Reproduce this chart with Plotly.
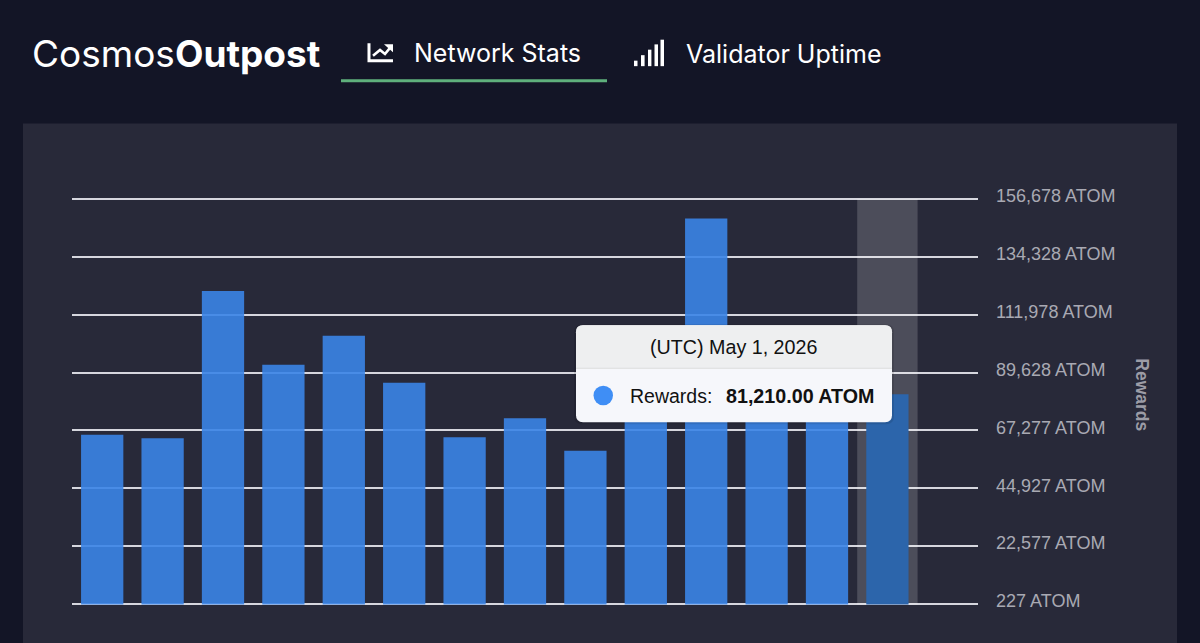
import plotly.graph_objects as go

# monthly rewards, last month has no bar yet
DATES = ["Apr 1, 2025", "May 1, 2025", "Jun 1, 2025", "Jul 1, 2025", "Aug 1, 2025",
         "Sep 1, 2025", "Oct 1, 2025", "Nov 1, 2025", "Dec 1, 2025", "Jan 1, 2026",
         "Feb 1, 2026", "Mar 1, 2026", "Apr 1, 2026", "May 1, 2026", "Jun 1, 2026"]
REWARDS = [65620, 64270, 121180, 92630, 103810, 85680, 64660, 71990, 59450,
           82000, 149150, 84000, 80000, 81210, None]
TICK_VALUES = [227, 22577, 44927, 67277, 89628, 111978, 134328, 156678]
TICK_LABELS = ["227 ATOM", "22,577 ATOM", "44,927 ATOM", "67,277 ATOM",
               "89,628 ATOM", "111,978 ATOM", "134,328 ATOM", "156,678 ATOM"]
HOVERED = "May 1, 2026"

PAGE_BG = "#131526"
PANEL_BG = "#282939"
BAR = "rgba(58,132,231,0.9)"
BAR_HOVER = "#2c65ab"
GRID = "#d6d6de"

# plot area in pixels, everything outside it is placed relative to this
# three pixels of slack top and bottom so the end gridlines are not dropped
LEFT, RIGHT, TOP, BOTTOM = 72, 978, 195.5, 607
SLACK = 3 * (max(TICK_VALUES) - min(TICK_VALUES)) / (BOTTOM - TOP - 6)


def px(x):
    return (x - LEFT) / (RIGHT - LEFT)


def py(y):
    return (BOTTOM - y) / (BOTTOM - TOP)


def rect(x0, y0, x1, y1, color):
    return dict(type="rect", xref="paper", yref="paper", x0=px(x0), x1=px(x1),
                y0=py(y0), y1=py(y1), fillcolor=color, line_width=0, layer="above")


def path(points, closed=False, fill=None, line=None, width=0):
    d = "M" + " L".join(f"{px(x):.5f},{py(y):.5f}" for x, y in points)
    if closed:
        d += " Z"
    return dict(type="path", xref="paper", yref="paper", path=d, layer="above",
                fillcolor=fill or "rgba(0,0,0,0)",
                line=dict(color=line or "rgba(0,0,0,0)", width=width))


def round_top_rect(x0, y0, x1, y1, r, color, top=True, bottom=True):
    # rounded box, built with quadratic corners in paper coordinates
    rt = r if top else 0
    rb = r if bottom else 0
    p = lambda x, y: f"{px(x):.5f},{py(y):.5f}"
    d = (f"M{p(x0 + rt, y0)} L{p(x1 - rt, y0)} Q{p(x1, y0)} {p(x1, y0 + rt)} "
         f"L{p(x1, y1 - rb)} Q{p(x1, y1)} {p(x1 - rb, y1)} "
         f"L{p(x0 + rb, y1)} Q{p(x0, y1)} {p(x0, y1 - rb)} "
         f"L{p(x0, y0 + rt)} Q{p(x0, y0)} {p(x0 + rt, y0)} Z")
    return dict(type="path", xref="paper", yref="paper", path=d, layer="above",
                fillcolor=color, line_width=0)


def label(x, y, text, size, color, family="Inter", anchor="left", angle=0):
    return dict(xref="paper", yref="paper", x=px(x), y=py(y), text=text, showarrow=False,
                xanchor=anchor, yanchor="middle", textangle=angle,
                font=dict(family=family, size=size, color=color))


fig = go.Figure()

# highlight column behind the hovered bar
fig.add_trace(go.Bar(
    x=DATES,
    y=[max(TICK_VALUES) if d == HOVERED else None for d in DATES],
    width=1,
    marker=dict(color="rgba(255,255,255,0.17)", line_width=0),
    hoverinfo="skip",
    showlegend=False,
))
fig.add_trace(go.Bar(
    x=DATES,
    y=REWARDS,
    name="Rewards",
    width=0.7,
    marker=dict(color=[BAR_HOVER if d == HOVERED else BAR for d in DATES], line_width=0),
    showlegend=False,
))

shapes = [
    # panel goes under the grid
    dict(type="rect", xref="paper", yref="paper", x0=px(23), x1=px(1177), y0=py(123), y1=py(660),
         fillcolor=PANEL_BG, line_width=0, layer="below"),
    # active tab
    rect(341, 78.5, 607, 81.5, "#5fb07c"),
    # line chart icon
    path([(369, 42.5), (369, 60), (393, 60)], line="white", width=3),
    path([(373, 55), (380, 49.3), (385, 53.3), (391, 46)], line="white", width=2.6),
    path([(384, 43.5), (393, 43.5), (393, 51.5)], closed=True, fill="white"),
    # signal icon
    rect(634, 60, 637.5, 65.5, "white"),
    rect(641, 54.5, 644.6, 65.5, "white"),
    rect(648, 49, 651.4, 65.5, "white"),
    rect(654.5, 43.7, 658, 65.5, "white"),
    rect(660.5, 39, 664, 65.5, "white"),
    # tooltip
    round_top_rect(574, 324, 894, 424, 8, "rgba(0,0,0,0.10)"),
    round_top_rect(576, 325, 892, 422, 7, "#f6f7fb"),
    round_top_rect(576, 325, 892, 368, 7, "#eeeff0", bottom=False),
    rect(576, 367.5, 892, 368.5, "#dcdcdd"),
    dict(type="circle", xref="paper", yref="paper", x0=px(593.5), x1=px(613),
         y0=py(385.5), y1=py(405), fillcolor="#3f8ef5", line_width=0, layer="above"),
]

annotations = [
    label(30, 53, "Cosmos<b>Outpost</b>", 37, "white"),
    label(412, 52, "Network Stats", 25, "white"),
    label(684, 53, "Validator Uptime", 25, "white"),
    label(1142, 394, "<b>Rewards</b>", 17.5, "#9c9ca6", family="Liberation Sans", anchor="center", angle=90),
    label(733.5, 347, "(UTC) " + HOVERED, 19.7, "#111111", family="Liberation Sans", anchor="center"),
    label(628, 396, "Rewards:", 19.5, "#111111", family="Liberation Sans"),
    label(724, 396, f"<b>{REWARDS[DATES.index(HOVERED)]:,.2f} ATOM</b>", 19.7, "#111111", family="Liberation Sans"),
]

fig.update_layout(
    width=1200,
    height=643,
    margin=dict(l=LEFT, r=1200 - RIGHT, t=TOP, b=643 - BOTTOM, pad=0),
    paper_bgcolor=PAGE_BG,
    plot_bgcolor="rgba(0,0,0,0)",
    barmode="overlay",
    shapes=shapes,
    annotations=annotations,
    font=dict(family="Liberation Sans"),
)
fig.update_xaxes(type="category", categoryorder="array", categoryarray=DATES,
                 range=[-0.5, len(DATES) - 0.5], showticklabels=False, showgrid=False,
                 zeroline=False, showline=False, ticks="")
fig.update_yaxes(side="right", range=[min(TICK_VALUES) - SLACK, max(TICK_VALUES) + SLACK], tickmode="array",
                 tickvals=TICK_VALUES, ticktext=TICK_LABELS, showgrid=True, gridcolor=GRID,
                 gridwidth=2, zeroline=False, showline=False, ticks="", ticklabelstandoff=17,
                 ticklabelshift=-3, tickfont=dict(family="Liberation Sans", size=18, color="#a9a9b3"))

fig.write_html("out.html", config={"displayModeBar": False},
               post_script="document.body.style.margin='0';document.body.style.background='" + PAGE_BG + "';document.body.style.overflow='hidden';")
